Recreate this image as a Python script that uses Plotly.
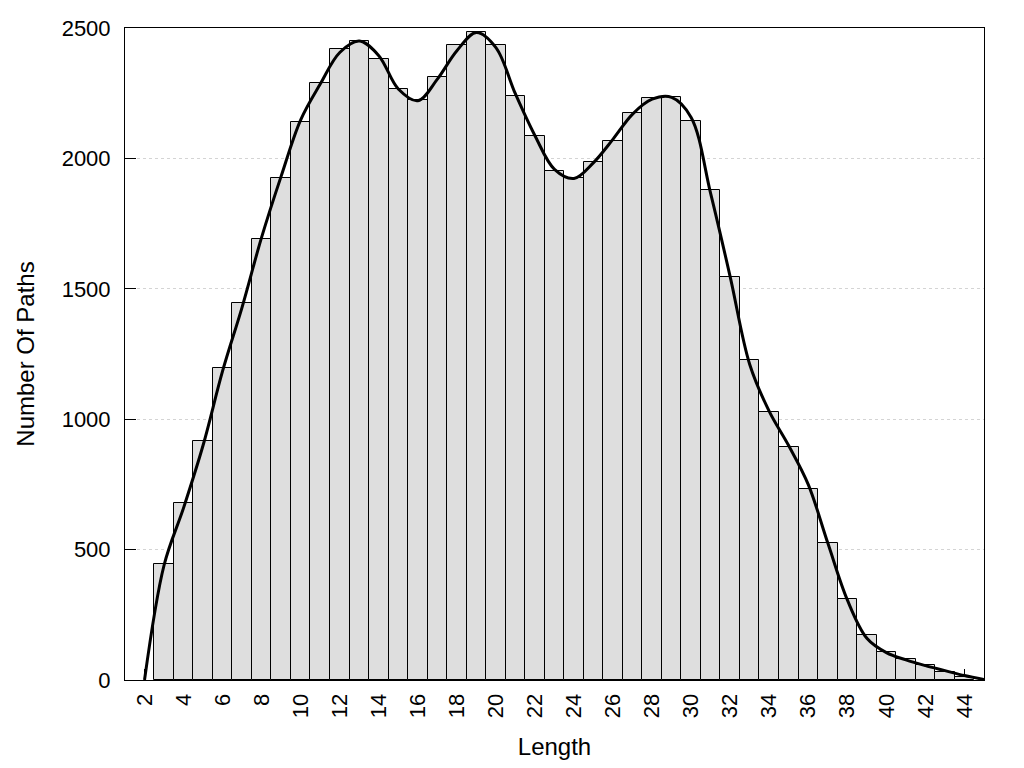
import plotly.graph_objects as go

# Histogram bars (x = path length, y = number of paths)
bar_lengths = list(range(3, 45))
bar_counts = [445, 678, 916, 1197, 1447, 1692, 1926, 2138, 2288, 2418,
              2449, 2380, 2265, 2223, 2314, 2435, 2483, 2435, 2241, 2084,
              1953, 1923, 1988, 2065, 2176, 2230, 2237, 2142, 1877, 1546,
              1228, 1028, 892, 732, 525, 310, 172, 107, 79, 56,
              29, 10]

# Smooth density curve read at integer lengths
curve_lengths = list(range(2, 46))
curve_counts = [0, 440, 660, 900, 1185, 1430, 1698, 1932, 2148, 2285,
                2406, 2450, 2394, 2266, 2221, 2304, 2413, 2483, 2425, 2247,
                2087, 1958, 1923, 1984, 2074, 2170, 2227, 2234, 2157, 1865,
                1546, 1210, 1030, 898, 749, 525, 307, 160, 105, 77,
                55, 36, 17, 2]

x_ticks = list(range(2, 46, 2))
y_ticks = [0, 500, 1000, 1500, 2000, 2500]

FONT = "Liberation Sans, Arial, sans-serif"

fig = go.Figure()
fig.add_trace(go.Bar(
    x=bar_lengths, y=bar_counts, width=1,
    marker=dict(color="#dedede", line=dict(color="black", width=1)),
    showlegend=False, hoverinfo="x+y",
))
fig.add_trace(go.Scatter(
    x=curve_lengths, y=curve_counts, mode="lines",
    line=dict(color="black", width=3, shape="spline", smoothing=1),
    showlegend=False,
))

fig.update_layout(
    width=1008, height=752,
    margin=dict(l=117, r=32, t=20, b=80),
    paper_bgcolor="white", plot_bgcolor="white",
    bargap=0,
    font=dict(family=FONT, size=22, color="black"),
    xaxis=dict(
        range=[1, 45], tickmode="array", tickvals=x_ticks,
        tickangle=-90, ticks="inside", ticklen=11, tickcolor="black",
        showline=True, linecolor="black", linewidth=1, mirror=True,
        showgrid=False, zeroline=False, layer="below traces",
        automargin=False, ticklabelstandoff=4,
        title=dict(text="Length", standoff=21, font=dict(size=24)),
        tickfont=dict(size=22),
    ),
    yaxis=dict(
        range=[0, 2500], tickmode="array", tickvals=y_ticks,
        ticks="inside", ticklen=11, tickcolor="black",
        showline=True, linecolor="black", linewidth=1, mirror=True,
        showgrid=True, gridcolor="#d4d4d4", griddash="dot", gridwidth=1,
        zeroline=False, automargin=False, ticklabelstandoff=9,
        title=dict(text="Number Of Paths", standoff=20, font=dict(size=24)),
        tickfont=dict(size=22),
    ),
)

fig.write_html("out.html")
